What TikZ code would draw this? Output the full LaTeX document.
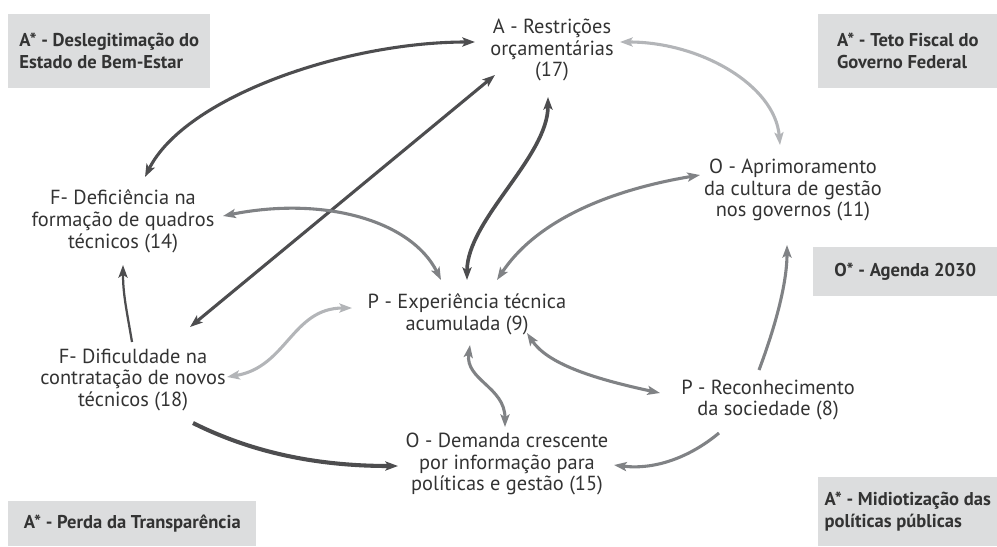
\documentclass[tikz,border=0pt]{standalone}
\usepackage{fontspec}
\setmainfont{PT Sans}
\usetikzlibrary{arrows.meta}
\definecolor{boxgrey}{HTML}{DCDDDE}
\definecolor{darkline}{HTML}{4D4D4F}
\definecolor{midline}{HTML}{808285}
\definecolor{lightline}{HTML}{B3B5B8}
\definecolor{textgrey}{HTML}{333333}

\begin{document}
\begin{tikzpicture}[x=0.025cm,y=-0.025cm,
    factor/.style={align=center, text=textgrey, font=\fontsize{14.5}{15.6}\selectfont},
    boxed/.style={align=left, fill=boxgrey, text=textgrey, anchor=north west, font=\bfseries\fontsize{13.2}{15.6}\selectfont},
    link/.style={line width=2.2pt},
    >={Stealth[length=9pt,width=6.5pt,inset=2pt]}]

    \path[use as bounding box] (0,0) rectangle (997,546);

    \node[boxed,minimum width=5.05cm,minimum height=1.85cm] (desleg) at (8,14) {A* - Deslegitimação do\\Estado de Bem-Estar};
    \node[boxed,minimum width=4.475cm,minimum height=1.85cm] (teto) at (818,14) {A* - Teto Fiscal do\\Governo Federal};
    \node[boxed,align=center,minimum width=4.6cm,minimum height=1.225cm] (agenda) at (813,247) {O* - Agenda 2030};
    \node[boxed,minimum width=4.475cm,minimum height=1.725cm] (midia) at (818,477) {A* - Midiotização das\\políticas públicas};
    \node[boxed,minimum width=6.2cm,minimum height=1.125cm] (perda) at (8,501) {A* - Perda da Transparência};

    \node[factor] (restr) at (552,50) {A - Restrições\\orçamentárias\\(17)};
    \node[factor] (defic) at (123,221) {F- Deficiência na\\formação de quadros\\técnicos (14)};
    \node[factor] (dific) at (133,380) {F- Dificuldade na\\contratação de novos\\técnicos (18)};
    \node[factor] (exper) at (467,314) {P - Experiência técnica\\acumulada (9)};
    \node[factor] (deman) at (507,464) {O - Demanda crescente\\por informação para\\políticas e gestão (15)};
    \node[factor] (recon) at (768,400) {P - Reconhecimento\\da sociedade (8)};
    \node[factor] (aprim) at (793,190) {O - Aprimoramento\\da cultura de gestão\\nos governos (11)};

    \draw[link,darkline,<->] ([shift={(22,-44)}]defic.center) .. controls +(40,-80) and +(-130,0) .. ([shift={(-77,-8)}]restr.center);
    \draw[link,darkline,<->] ([shift={(57,-53)}]dific.center) -- ([shift={(-57,25)}]restr.center);
    \draw[link,darkline,<->,line width=2.6pt] ([shift={(0,-34)}]exper.center) .. controls +(0,-60) and +(0,60) .. ([shift={(-4,47)}]restr.center);
    \draw[link,midline,<->] ([shift={(100,-5)}]defic.center) .. controls +(100,-20) and +(-30,-60) .. ([shift={(-26,-34)}]exper.center);
    \draw[link,midline,<->] ([shift={(30,-34)}]exper.center) .. controls +(40,-60) and +(-90,15) .. ([shift={(-93,-15)}]aprim.center);
    \draw[link,lightline,<->] ([shift={(68,-8)}]restr.center) .. controls +(80,0) and +(-5,-60) .. ([shift={(-13,-45)}]aprim.center);
    \draw[link,lightline,<->] ([shift={(94,-3)}]dific.center) .. controls +(60,-10) and +(-60,0) .. ([shift={(-115,-6)}]exper.center);
    \draw[link,darkline,->,line width=1.6pt] ([shift={(-1,-38)}]dific.center) .. controls +(-5,-30) and +(0,30) .. ([shift={(0,44)}]defic.center);
    \draw[link,darkline,->,line width=2.9pt] ([shift={(60,43)}]dific.center) .. controls +(60,30) and +(-80,0) .. ([shift={(-109,2)}]deman.center);
    \draw[link,midline,<->] ([shift={(3,31)}]exper.center) .. controls +(-5,35) and +(0,-40) .. ([shift={(-2,-37)}]deman.center);
    \draw[link,midline,<->] ([shift={(60,19)}]exper.center) .. controls +(20,30) and +(-70,-15) .. ([shift={(-108,-7)}]recon.center);
    \draw[link,midline,->] ([shift={(-49,33)}]recon.center) .. controls +(-30,25) and +(40,5) .. ([shift={(107,1)}]deman.center);
    \draw[link,midline,->] ([shift={(-9,-30)}]recon.center) .. controls +(15,-40) and +(0,40) .. ([shift={(-6,55)}]aprim.center);
\end{tikzpicture}
\end{document}
